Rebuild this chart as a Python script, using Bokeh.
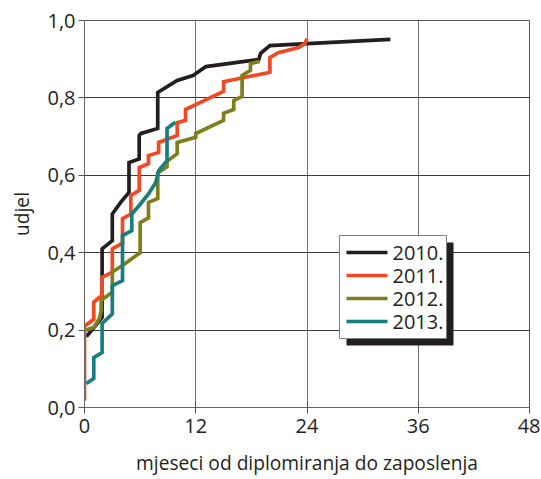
from bokeh.plotting import figure
from bokeh.models import FixedTicker, CustomJSTickFormatter, Range1d
from bokeh.core.properties import value
from bokeh.embed import file_html
from bokeh.resources import INLINE

# ---------------- data ----------------
x_ticks = [0, 12, 24, 36, 48]
y_ticks = [0.0, 0.2, 0.4, 0.6, 0.8, 1.0]

labels = ["2010.", "2011.", "2012.", "2013."]

black_x = [0.2, 1.2, 1.9, 1.9, 3.0, 3.0, 3.9, 4.8, 4.8, 5.9, 5.9, 6.1, 7.9, 7.9,
           10.0, 11.7, 13.1, 18.8, 19.0, 20.0, 24.0, 33.0]
black_y = [0.183, 0.212, 0.233, 0.41, 0.431, 0.50, 0.53, 0.556, 0.633, 0.642, 0.703,
           0.708, 0.721, 0.814, 0.845, 0.858, 0.881, 0.899, 0.915, 0.935, 0.94, 0.951]

orange_x = [0.0, 0.0, 1.0, 1.0, 1.9, 1.9, 3.0, 3.0, 4.1, 4.1, 5.0, 5.0, 5.9, 5.9,
            6.9, 6.9, 8.0, 8.0, 10.0, 10.0, 10.9, 10.9, 15.0, 15.0, 20.0, 20.0,
            20.9, 23.1, 23.8, 24.0]
orange_y = [0.018, 0.21, 0.228, 0.272, 0.29, 0.336, 0.35, 0.41, 0.425, 0.488, 0.50,
            0.548, 0.561, 0.62, 0.63, 0.651, 0.659, 0.685, 0.703, 0.736, 0.742, 0.770,
            0.817, 0.842, 0.866, 0.904, 0.917, 0.930, 0.941, 0.953]

olive_x = [0.2, 1.0, 1.6, 1.8, 1.8, 3.0, 3.0, 4.1, 6.0, 6.0, 6.9, 6.9, 7.9, 7.9,
           8.9, 8.9, 10.0, 10.0, 12.0, 12.0, 15.0, 15.0, 16.1, 16.1, 17.0, 17.0,
           17.9, 17.9, 18.9]
olive_y = [0.2, 0.207, 0.23, 0.25, 0.277, 0.298, 0.35, 0.367, 0.40, 0.478, 0.49,
           0.53, 0.54, 0.606, 0.622, 0.636, 0.656, 0.685, 0.698, 0.708, 0.742, 0.76,
           0.77, 0.793, 0.804, 0.858, 0.871, 0.889, 0.894]

teal_x = [0.2, 1.0, 1.0, 1.9, 1.9, 3.0, 3.0, 4.1, 4.1, 5.1, 5.1, 5.9, 6.9, 7.7,
          8.0, 8.9, 8.9, 9.8]
teal_y = [0.062, 0.075, 0.129, 0.142, 0.217, 0.242, 0.315, 0.328, 0.444, 0.457,
          0.50, 0.522, 0.552, 0.582, 0.612, 0.638, 0.721, 0.737]

colors = ["#231f20", "#f04a24", "#7e7e1b", "#17807f"]

# ---------------- layout ----------------
FONT = "Open Sans"
TXT = "#231f20"
W, H = 540, 479
ML, MT = 84, 20
FW, FH = 445, 387
MR, MB = W - ML - FW, H - MT - FH
X0, X1, Y0, Y1 = 0, 48, 0, 1

p = figure(width=W, height=H, output_backend="svg", toolbar_location=None,
           x_range=Range1d(X0, X1), y_range=Range1d(Y0, Y1),
           min_border_left=ML, min_border_right=MR, min_border_top=MT,
           min_border_bottom=MB, background_fill_color="white",
           border_fill_color="white")
p.outline_line_color = "#555555"
p.outline_line_width = 1

series = [(black_x, black_y), (orange_x, orange_y), (olive_x, olive_y), (teal_x, teal_y)]
for (xs, ys), c in zip(series, colors):
    p.line(xs, ys, line_color=c, line_width=3.7, line_join="miter")

# axes
for ax in (p.xaxis[0], p.yaxis[0]):
    ax.axis_line_color = "#666666"
    ax.major_tick_line_color = "#555555"
    ax.minor_tick_line_color = None
    ax.major_label_text_font = FONT
    ax.major_label_text_font_size = "20px"
    ax.major_label_text_color = TXT
    ax.axis_label_text_font = FONT
    ax.axis_label_text_font_size = "19.2px"
    ax.axis_label_text_font_style = "normal"
    ax.axis_label_text_color = TXT

p.xaxis.ticker = FixedTicker(ticks=x_ticks)
p.xaxis.major_tick_in = 6
p.xaxis.major_tick_out = 6
p.xaxis.major_label_standoff = 5
p.xaxis.axis_label = "mjeseci od diplomiranja do zaposlenja"
p.xaxis.axis_label_standoff = 13

p.yaxis.ticker = FixedTicker(ticks=y_ticks)
p.yaxis.formatter = CustomJSTickFormatter(code="return tick.toFixed(1).replace('.', ',');")
p.yaxis.major_tick_in = 0
p.yaxis.major_tick_out = 6
p.yaxis.major_label_standoff = 3
p.yaxis.axis_label = "udjel"
p.yaxis.axis_label_standoff = 9

p.xgrid.ticker = FixedTicker(ticks=x_ticks)
p.ygrid.ticker = FixedTicker(ticks=y_ticks)
p.xgrid.grid_line_color = "#707070"
p.ygrid.grid_line_color = "#3a3a3a"
p.xgrid.grid_line_width = 1
p.ygrid.grid_line_width = 1

# ---------------- legend (pixel layout relative to the frame's bottom-left) ----------------
def sx(px):  # screen px from frame left -> data x
    return X0 + px / FW * (X1 - X0)

def sy(py):  # screen px from frame bottom -> data y
    return Y0 + py / FH * (Y1 - Y0)

BOX_L, BOX_B, BOX_W, BOX_H = 255, 69, 107, 103
SHADOW = 7
PAD_L, GLYPH_W, STANDOFF = 7, 41, 5
ROW0, PITCH = 17, 23  # first row centre below box top, row pitch

p.quad(left=[sx(BOX_L + SHADOW)], right=[sx(BOX_L + BOX_W + SHADOW)],
       bottom=[sy(BOX_B - SHADOW)], top=[sy(BOX_B + BOX_H - SHADOW)],
       fill_color="#231f20", line_color=None)
p.quad(left=[sx(BOX_L)], right=[sx(BOX_L + BOX_W)],
       bottom=[sy(BOX_B)], top=[sy(BOX_B + BOX_H)],
       fill_color="white", line_color="#808080", line_width=1)

row_y = [sy(BOX_B + BOX_H - ROW0 - i * PITCH) for i in range(len(labels))]
p.segment(x0=[sx(BOX_L + PAD_L)] * len(labels), x1=[sx(BOX_L + PAD_L + GLYPH_W)] * len(labels),
          y0=row_y, y1=row_y, line_color=colors, line_width=3.7)
p.text(x=[sx(BOX_L + PAD_L + GLYPH_W + STANDOFF)] * len(labels), y=row_y, text=labels,
       text_font=value(FONT), text_font_size="20px", text_color=TXT,
       text_baseline="middle", text_align="left")

open("out.html", "w").write(file_html(p, INLINE))
